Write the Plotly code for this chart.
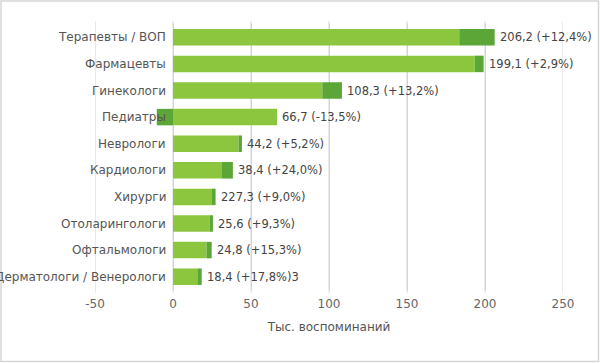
import plotly.graph_objects as go

categories = ["Терапевты / ВОП", "Фармацевты", "Гинекологи", "Педиатры", "Неврологи",
              "Кардиологи", "Хирурги", "Отоларингологи", "Офтальмологи", "Дерматологи / Венерологи"]
base_values = [183.5, 193.5, 95.7, 66.7, 42.0, 31.0, 25.0, 23.4, 21.5, 15.6]
change_values = [22.7, 5.6, 12.6, -10.4, 2.2, 7.4, 2.3, 2.2, 3.3, 2.8]
totals = [206.2, 199.1, 108.3, 66.7, 44.2, 38.4, 27.3, 25.6, 24.8, 18.4]
labels = ["206,2 (+12,4%)", "199,1 (+2,9%)", "108,3 (+13,2%)", "66,7 (-13,5%)", "44,2 (+5,2%)",
          "38,4 (+24,0%)", "227,3 (+9,0%)", "25,6 (+9,3%)", "24,8 (+15,3%)", "18,4 (+17,8%)3"]
x_ticks = [-50, 0, 50, 100, 150, 200, 250]
x_tick_labels = ["-50", "0", "50", "100", "150", "200", "250"]

FONT = "DejaVu Sans"
W, H = 600, 363
L, T, PW, PH = 95, 24, 468, 266
GRID = "#d4d4d4"

fig = go.Figure()
fig.add_trace(go.Bar(y=categories, x=base_values, orientation="h",
                     marker=dict(color="#8cc63f", line=dict(width=0)), showlegend=False,
                     hoverinfo="skip"))
fig.add_trace(go.Bar(y=categories, x=change_values, orientation="h",
                     marker=dict(color="#5ca638", line=dict(width=0)), showlegend=False,
                     hoverinfo="skip"))

# vertical gridlines at the tick positions, behind the bars
for v in x_ticks:
    fig.add_shape(type="line", xref="x", yref="paper", x0=v, x1=v, y0=-0.01, y1=1.01,
                  line=dict(color=GRID, width=1), layer="below")

# category labels sit next to the value-0 line (axis crossing at 0)
for c in categories:
    fig.add_annotation(x=0, y=c, text=c, showarrow=False, xanchor="right", xshift=-5,
                       font=dict(family=FONT, size=12, color="#555555"))

for c, t, lab in zip(categories, totals, labels):
    fig.add_annotation(x=t, y=c, text=lab, showarrow=False, xanchor="left", xshift=3,
                       font=dict(family=FONT, size=11.5, color="#444444"))

fig.add_shape(type="rect", xref="paper", yref="paper",
              x0=(1 - L) / PW, x1=(598.5 - L) / PW,
              y0=(T + PH - 361.5) / PH, y1=(T + PH - 1) / PH,
              line=dict(color="#d6d6d6", width=1.5), fillcolor="rgba(0,0,0,0)", layer="above")

fig.update_layout(
    width=W, height=H,
    margin=dict(l=L, r=W - L - PW, t=T, b=H - T - PH),
    barmode="relative", bargap=0.38,
    plot_bgcolor="white", paper_bgcolor="white",
    font=dict(family=FONT, size=12, color="#555555"),
    xaxis=dict(range=[-50, 250], tickvals=x_ticks, ticktext=x_tick_labels, showgrid=True,
               gridcolor=GRID, gridwidth=1, zeroline=False, showline=False, ticks="",
               automargin=False, ticklabelstandoff=5, tickfont=dict(size=12, color="#666666"),
               title=dict(text="Тыс. воспоминаний", font=dict(size=12, color="#555555"), standoff=12)),
    yaxis=dict(autorange="reversed", showgrid=False, zeroline=False, ticks="", automargin=False,
               showticklabels=False, showline=False),
)
fig.write_html("out.html", config={"displayModeBar": False},
               post_script="document.body.style.margin='0';")
